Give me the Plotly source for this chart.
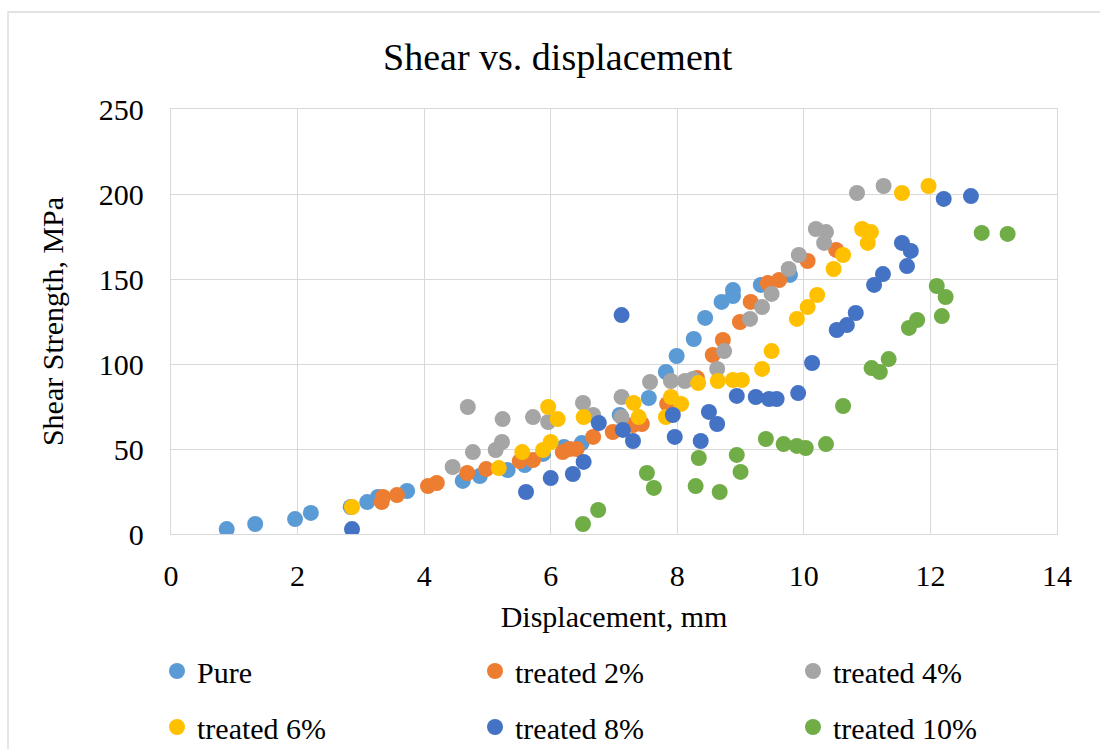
import plotly.graph_objects as go

# ---- data (displacement mm, shear strength MPa) ----
pure_x = [0.88, 1.33, 1.96, 2.21, 2.84, 3.10, 3.27, 3.73, 4.61, 4.88, 5.32, 5.56, 5.59, 5.88, 6.21, 6.49,
          7.09, 7.55, 7.82, 7.99, 8.26, 8.44, 8.70, 8.88, 8.88, 9.32, 9.78]
pure_y = [2.9, 5.9, 8.8, 12.4, 15.9, 18.8, 21.8, 25.3, 31.2, 34.1, 37.6, 43.5, 40.6, 47.1, 51.2, 53.5,
          70.0, 80.0, 95.3, 104.7, 114.7, 127.1, 136.5, 143.5, 140.0, 146.5, 152.4]

t2_x = [3.33, 3.35, 3.57, 4.06, 4.20, 4.68, 4.98, 5.51, 5.72, 6.19, 6.30, 6.41, 6.67, 6.98, 7.30, 7.44,
        7.84, 8.31, 8.56, 8.72, 8.99, 9.16, 9.43, 9.61, 10.06, 10.51]
t2_y = [18.8, 21.8, 22.9, 28.2, 30.0, 35.9, 38.2, 42.9, 43.5, 48.2, 50.0, 50.0, 57.1, 60.0, 64.1, 64.7,
        76.5, 91.8, 105.3, 114.1, 124.7, 136.5, 147.6, 149.4, 160.6, 167.1]

t4_x = [4.45, 4.69, 4.77, 5.13, 5.23, 5.24, 5.72, 5.96, 6.51, 6.67, 7.12, 7.12, 7.57, 7.90, 8.12, 8.25,
        8.63, 8.74, 9.15, 9.34, 9.49, 9.76, 9.92, 10.19, 10.35, 10.32, 10.84, 11.26]
t4_y = [39.4, 74.7, 48.2, 49.4, 54.1, 67.6, 68.8, 65.9, 77.1, 70.0, 80.6, 68.8, 89.4, 90.0, 90.0, 91.2,
        97.1, 107.6, 126.5, 133.5, 141.2, 155.9, 164.1, 179.4, 177.6, 171.2, 200.6, 204.7]

t6_x = [2.86, 5.18, 5.55, 5.88, 6.00, 5.96, 6.11, 6.52, 7.31, 7.39, 7.82, 7.90, 8.06, 8.33, 8.64, 8.88,
        9.02, 9.34, 9.49, 9.89, 10.06, 10.21, 10.47, 10.62, 10.92, 11.06, 11.01, 11.55, 11.97]
t6_y = [15.9, 38.8, 48.2, 49.4, 54.1, 74.7, 67.6, 68.8, 77.1, 68.8, 68.8, 80.6, 76.5, 88.8, 90.0, 90.6,
        90.6, 97.1, 107.6, 126.5, 133.5, 140.6, 155.9, 164.1, 179.4, 177.6, 171.2, 200.6, 204.7]

t8_x = [2.86, 5.61, 6.00, 6.35, 6.52, 6.76, 7.12, 7.14, 7.30, 7.93, 7.96, 8.37, 8.50, 8.63, 8.94, 9.24,
        9.45, 9.57, 9.91, 10.13, 10.52, 10.68, 10.82, 11.11, 11.25, 11.55, 11.69, 11.63, 12.21, 12.64]
t8_y = [2.9, 24.7, 32.9, 35.3, 42.4, 65.3, 128.8, 61.2, 54.7, 70.0, 57.1, 54.7, 71.8, 64.7, 81.2, 80.6,
        79.4, 79.4, 82.9, 100.6, 120.0, 122.9, 130.0, 146.5, 152.9, 171.2, 166.5, 157.6, 197.1, 198.8]

t10_x = [6.51, 6.75, 7.52, 7.63, 8.29, 8.34, 8.67, 8.94, 9.00, 9.40, 9.68, 9.89, 10.03, 10.35, 10.62,
         11.07, 11.20, 11.34, 11.66, 11.79, 12.10, 12.24, 12.18, 12.81, 13.22]
t10_y = [5.9, 14.1, 35.9, 27.1, 28.2, 44.7, 24.7, 46.5, 36.5, 55.9, 52.9, 51.8, 50.6, 52.9, 75.3,
         97.6, 95.3, 102.9, 121.2, 125.9, 145.9, 139.4, 128.2, 177.1, 176.5]

series_names = ["Pure", "treated 2%", "treated 4%", "treated 6%", "treated 8%", "treated 10%"]
series_x = [pure_x, t2_x, t4_x, t6_x, t8_x, t10_x]
series_y = [pure_y, t2_y, t4_y, t6_y, t8_y, t10_y]
colors = ["#5B9BD5", "#ED7D31", "#A5A5A5", "#FFC000", "#4472C4", "#70AD47"]
legend_ids = ["legend", "legend", "legend", "legend2", "legend2", "legend2"]
legend_widths = [273, 273, 150, 273, 273, 150]

x_ticks = [0, 2, 4, 6, 8, 10, 12, 14]
y_ticks = [0, 50, 100, 150, 200, 250]

FONT = "Liberation Serif"

fig = go.Figure()
for name, xs, ys, c, lg, lw in zip(series_names, series_x, series_y, colors, legend_ids, legend_widths):
    fig.add_trace(go.Scatter(x=xs, y=ys, mode="markers", name=name, legend=lg, legendwidth=lw,
                             marker=dict(color=c, size=16, line=dict(width=0))))

legend_common = dict(orientation="h", xanchor="left", yanchor="middle", itemsizing="trace",
                     bgcolor="rgba(0,0,0,0)", borderwidth=0,
                     font=dict(family=FONT, size=30, color="#000000"))

fig.update_layout(
    width=1100, height=749,
    margin=dict(l=171, r=43, t=109, b=215, autoexpand=False),
    paper_bgcolor="white", plot_bgcolor="white",
    font=dict(family=FONT, color="#000000"),
    title=dict(text="Shear vs. displacement", x=0.507, xanchor="center", y=1 - 57 / 749, yanchor="middle",
               font=dict(family=FONT, size=38, color="#000000")),
    xaxis=dict(range=[0, 14], tickvals=x_ticks, ticktext=[str(v) for v in x_ticks],
               showgrid=True, gridcolor="#D9D9D9", gridwidth=1.3, zeroline=False,
               showline=True, linecolor="#D9D9D9", linewidth=1.3, mirror=True,
               ticks="", ticklabelstandoff=15,
               tickfont=dict(family=FONT, size=30, color="#000000"),
               title=dict(text="Displacement, mm", standoff=14, font=dict(family=FONT, size=30, color="#000000"))),
    yaxis=dict(range=[0, 250], tickvals=y_ticks, ticktext=[str(v) for v in y_ticks],
               showgrid=True, gridcolor="#D9D9D9", gridwidth=1.3, zeroline=False,
               showline=True, linecolor="#D9D9D9", linewidth=1.3, mirror=True,
               ticks="", ticklabelstandoff=20,
               tickfont=dict(family=FONT, size=30, color="#000000"),
               title=dict(text="Shear Strength, MPa", standoff=26, font=dict(family=FONT, size=30, color="#000000"))),
    legend=dict(x=(157 - 171) / 886, y=(534 - 671) / 425, **legend_common),
    legend2=dict(x=(157 - 171) / 886, y=(534 - 727) / 425, **legend_common),
    showlegend=True,
)

# outer chart border
fig.add_shape(type="rect", xref="paper", yref="paper",
              x0=(8 - 171) / 886, x1=(1110 - 171) / 886, y0=(534 - 770) / 425, y1=(534 - 12) / 425,
              line=dict(color="#D9D9D9", width=1.3), fillcolor="rgba(0,0,0,0)", layer="below")

fig.write_html("out.html")
